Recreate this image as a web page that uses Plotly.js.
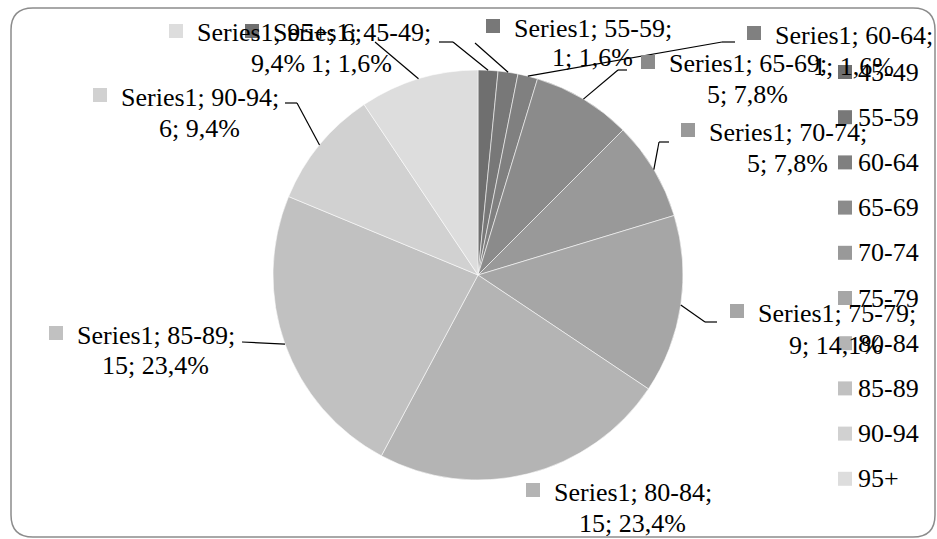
<!DOCTYPE html>
<html>
<head>
<meta charset="utf-8">
<script src="https://cdn.plot.ly/plotly-3.0.1.min.js"></script>
<style>html,body{margin:0;padding:0;background:#fff;}#chart{width:937px;height:539px;}</style>
</head>
<body>
<div id="chart"></div>
<script>
// ---- data ----
const seriesName = "Series1";
const categories = ["45-49", "55-59", "60-64", "65-69", "70-74", "75-79", "80-84", "85-89", "90-94", "95+"];
const values = [1, 1, 1, 5, 5, 9, 15, 15, 6, 6];
const colors = ["#6f6f6f", "#787878", "#808080", "#8b8b8b", "#999999", "#a6a6a6", "#b4b4b4", "#c1c1c1", "#d1d1d1", "#dddddd"];

// ---- layout helpers (pixel positions of the labels, not data) ----
const W = 937, H = 539;
const PIE = {cx: 478, cy: 275, r: 205};
const FONT = "Liberation Serif";
const FS = 26;
// text start x, line1 centre y, line2 centre y, value-on-first-line flag, leader points (before edge)
const labelPos = [
  {x: 272, y1: 33, y2: 63, wrapAfterValue: false, leader: [[439, 42], [453, 42]]},
  {x: 513, y1: 28, y2: 58, wrapAfterValue: false, leader: [[475, 43]]},
  {x: 774, y1: 35, y2: 66, wrapAfterValue: false, leader: [[735, 42], [722, 42]]},
  {x: 668, y1: 64, y2: 95, wrapAfterValue: false, leader: [[627, 70], [618, 70]]},
  {x: 708, y1: 132, y2: 163, wrapAfterValue: false, leader: [[669, 142], [659, 142]]},
  {x: 757, y1: 313, y2: 345, wrapAfterValue: false, leader: [[717, 322], [705, 322]]},
  {x: 553, y1: 492, y2: 523, wrapAfterValue: false, leader: null},
  {x: 76, y1: 335, y2: 365, wrapAfterValue: false, leader: [[242, 342]]},
  {x: 120, y1: 97, y2: 128, wrapAfterValue: false, leader: [[285, 103], [297, 103]]},
  {x: 196, y1: 33, y2: 63, wrapAfterValue: true, leader: [[375, 42]]}
];
const legendPos = {markerX: 838, textX: 857, y0: 72, step: 45.2, size: 14};

const px = x => x / W;
const py = y => 1 - y / H;

const ctx = document.createElement("canvas").getContext("2d");
ctx.font = FS + "px 'Liberation Serif'";

const total = values.reduce((a, b) => a + b, 0);
const pct = v => (v / total * 100).toFixed(1).replace(".", ",") + "%";

const shapes = [];
const annotations = [];

// border
(function () {
  const x0 = 11, y0 = 8, x1 = 935, y1 = 537, r = 22;
  const P = (x, y) => px(x) + "," + py(y);
  const path = "M" + P(x0 + r, y0) + " L" + P(x1 - r, y0) + " Q" + P(x1, y0) + " " + P(x1, y0 + r) +
    " L" + P(x1, y1 - r) + " Q" + P(x1, y1) + " " + P(x1 - r, y1) +
    " L" + P(x0 + r, y1) + " Q" + P(x0, y1) + " " + P(x0, y1 - r) +
    " L" + P(x0, y0 + r) + " Q" + P(x0, y0) + " " + P(x0 + r, y0) + " Z";
  shapes.push({type: "path", xref: "paper", yref: "paper", path: path, line: {color: "#8c8c8c", width: 1.5}, layer: "below"});
})();

// data labels
let cum = 0;
categories.forEach((cat, i) => {
  const v = values[i];
  const mid = (cum + v / 2) / total * 2 * Math.PI;
  cum += v;
  const ex = PIE.cx + PIE.r * Math.sin(mid);
  const ey = PIE.cy - PIE.r * Math.cos(mid);
  const L = labelPos[i];
  let line1, line2;
  if (L.wrapAfterValue) {
    line1 = seriesName + "; " + cat + "; " + v + ";";
    line2 = pct(v);
  } else {
    line1 = seriesName + "; " + cat + ";";
    line2 = v + "; " + pct(v);
  }
  const w1 = ctx.measureText(line1).width;
  annotations.push({xref: "paper", yref: "paper", x: px(L.x), y: py(L.y1), xanchor: "left", yanchor: "middle",
    text: line1, showarrow: false, font: {family: FONT, size: FS, color: "#000"}, borderpad: 0});
  annotations.push({xref: "paper", yref: "paper", x: px(L.x + w1 / 2), y: py(L.y2), xanchor: "center", yanchor: "middle",
    text: line2, showarrow: false, font: {family: FONT, size: FS, color: "#000"}, borderpad: 0});
  shapes.push({type: "rect", xref: "paper", yref: "paper",
    x0: px(L.x - 27), x1: px(L.x - 13), y0: py(L.y1 - 9), y1: py(L.y1 + 5),
    fillcolor: colors[i], line: {width: 0}});
  if (L.leader) {
    const pts = L.leader.concat([[ex, ey]]);
    for (let k = 0; k < pts.length - 1; k++) {
      shapes.push({type: "line", xref: "paper", yref: "paper",
        x0: px(pts[k][0]), y0: py(pts[k][1]), x1: px(pts[k + 1][0]), y1: py(pts[k + 1][1]),
        line: {color: "#000", width: 1.2}});
    }
  }
});

// legend
categories.forEach((cat, i) => {
  const y = legendPos.y0 + i * legendPos.step;
  shapes.push({type: "rect", xref: "paper", yref: "paper",
    x0: px(legendPos.markerX), x1: px(legendPos.markerX + legendPos.size),
    y0: py(y - legendPos.size / 2), y1: py(y + legendPos.size / 2),
    fillcolor: colors[i], line: {width: 0}});
  annotations.push({xref: "paper", yref: "paper", x: px(legendPos.textX), y: py(y), xanchor: "left", yanchor: "middle",
    text: cat, showarrow: false, font: {family: FONT, size: FS, color: "#000"}, borderpad: 0});
});

const trace = {
  type: "pie",
  labels: categories,
  values: values,
  sort: false,
  direction: "clockwise",
  rotation: 0,
  textinfo: "none",
  hoverinfo: "label+value+percent",
  marker: {colors: colors, line: {color: "rgba(255,255,255,0.55)", width: 1}},
  domain: {x: [px(PIE.cx - PIE.r), px(PIE.cx + PIE.r)], y: [py(PIE.cy + PIE.r), py(PIE.cy - PIE.r)]},
  showlegend: false
};

const layout = {
  width: W, height: H,
  margin: {l: 0, r: 0, t: 0, b: 0},
  paper_bgcolor: "#fff",
  font: {family: FONT},
  showlegend: false,
  shapes: shapes,
  annotations: annotations
};

Plotly.newPlot("chart", [trace], layout, {displayModeBar: false, staticPlot: true});
</script>
</body>
</html>
